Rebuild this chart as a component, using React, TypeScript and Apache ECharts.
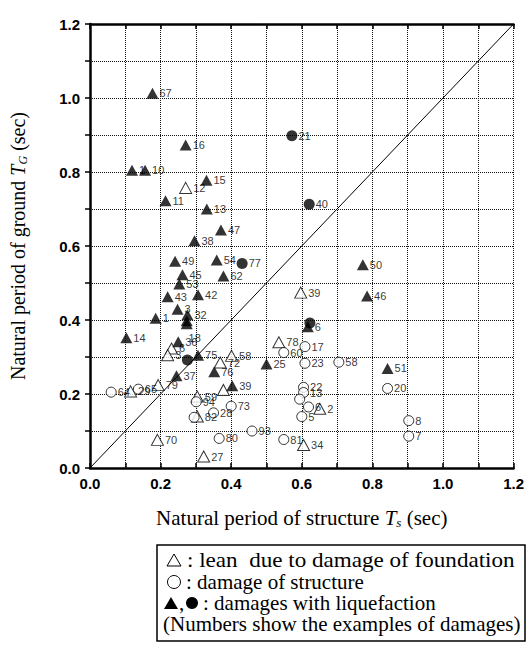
import React, { useEffect, useRef } from "react";
import * as echarts from "echarts";

// [Ts, TG, label]
const leanFoundation: [number, number, string][] = [
  [0.271, 0.757, "12"], [0.597, 0.474, "39"], [0.535, 0.34, "78"],
  [0.231, 0.323, "6"], [0.22, 0.305, "3"], [0.401, 0.303, "58"],
  [0.369, 0.285, "72"], [0.304, 0.193, "59"], [0.378, 0.211, ""],
  [0.304, 0.139, "82"], [0.115, 0.207, "29"], [0.193, 0.224, "79"],
  [0.191, 0.076, "70"], [0.322, 0.031, "27"], [0.651, 0.16, "2"],
  [0.605, 0.062, "34"],
];
const damageStructure: [number, number, string][] = [
  [0.549, 0.312, "60"], [0.609, 0.328, "17"], [0.609, 0.283, "23"],
  [0.705, 0.286, "58"], [0.843, 0.215, "20"], [0.605, 0.218, "22"],
  [0.605, 0.204, "13"], [0.594, 0.186, ""], [0.619, 0.165, "6"],
  [0.6, 0.139, "5"], [0.903, 0.128, "8"], [0.903, 0.086, "7"],
  [0.549, 0.077, "81"], [0.459, 0.1, "93"], [0.366, 0.08, "80"],
  [0.35, 0.149, "28"], [0.4, 0.167, "73"], [0.301, 0.179, "94"],
  [0.295, 0.137, ""], [0.06, 0.205, "64"], [0.137, 0.213, "65"],
];
const liquefactionTri: [number, number, string][] = [
  [0.177, 1.013, "67"], [0.271, 0.873, "16"], [0.119, 0.805, "1"],
  [0.156, 0.805, "10"], [0.33, 0.778, "15"], [0.214, 0.722, "11"],
  [0.331, 0.7, "13"], [0.371, 0.643, "47"], [0.296, 0.614, "38"],
  [0.241, 0.559, "49"], [0.359, 0.562, "54"], [0.262, 0.522, "45"],
  [0.378, 0.519, "62"], [0.253, 0.497, "53"], [0.22, 0.463, "43"],
  [0.306, 0.468, "42"], [0.248, 0.429, "3"], [0.276, 0.414, "32"],
  [0.274, 0.398, ""], [0.186, 0.405, "1"], [0.103, 0.352, "14"],
  [0.25, 0.341, "36"], [0.306, 0.305, "75"], [0.352, 0.26, "76"],
  [0.5, 0.281, "25"], [0.245, 0.249, "37"], [0.403, 0.222, "39"],
  [0.773, 0.549, "50"], [0.785, 0.465, "46"], [0.843, 0.269, "51"],
  [0.617, 0.382, "6"],
];
const liquefactionCircle: [number, number, string][] = [
  [0.572, 0.898, "21"], [0.621, 0.713, "40"], [0.431, 0.553, "77"],
  [0.276, 0.292, ""], [0.623, 0.392, ""],
];
const label18: [number, number, string][] = [[0.274, 0.39, "18"]];
const diagonal: [number, number][] = [[0, 0], [1.2, 1.2]];

const toData = (arr: [number, number, string][]) =>
  arr.map(([x, y, n]) => ({ value: [x, y], name: n }));

const pointLabel = {
  show: true,
  position: "right" as const,
  distance: 1,
  formatter: "{b}",
  color: "#000",
  fontSize: 11,
  fontFamily: "Liberation Sans, Arial, sans-serif",
};

export default function App() {
  const ref = useRef<HTMLDivElement>(null);
  useEffect(() => {
    if (!ref.current) return;
    const chart = echarts.init(ref.current, null, { renderer: "svg" });
    const axisLine = { show: true, lineStyle: { color: "#000", width: 2.5 } };
    const splitLine = { show: true, lineStyle: { color: "#111", type: "dotted" as const, width: 1 } };
    const tickFmt = (v: number) => (Math.round(v * 10) % 2 === 0 ? v.toFixed(1) : "");
    const tickLabel = {
      formatter: tickFmt,
      color: "#000",
      fontSize: 15,
      fontWeight: "bold" as const,
      fontFamily: "Liberation Sans, Arial, sans-serif",
    };
    const serif = "Liberation Serif, Times New Roman, serif";
    const mkRich = (fs: number) => ({
      a: { fontFamily: serif, fontSize: fs, color: "#000" },
      i: { fontFamily: serif, fontSize: fs, fontStyle: "italic" as const, color: "#000" },
      s: { fontFamily: serif, fontSize: Math.round(fs * 0.62), fontStyle: "italic" as const, color: "#000", verticalAlign: "bottom" as const, padding: [10, 0, 0, 0] },
    });
    const legendFont = "21px Liberation Serif, Times New Roman, serif";
    const lt = (x: number, y: number, text: string, scaleX = 1) => ({
      type: "text", x, y, scaleX,
      style: { text, font: legendFont, fill: "#000", verticalAlign: "middle", align: "left" },
    });
    chart.setOption({
      animation: false,
      grid: { left: 89, top: 24, width: 432, height: 444, containLabel: false },
      xAxis: [
        {
          type: "value", min: 0, max: 1.2, interval: 0.1, position: "bottom",
          axisLine, axisTick: { show: true, inside: true, length: 5, lineStyle: { color: "#000", width: 1.5 } },
          axisLabel: { ...tickLabel, margin: 8 },
          splitLine,
          name: "{a|Natural period of structure }{i|T}{s|s}{a| (sec)}",
          nameLocation: "middle", nameGap: 38,
          nameTextStyle: { rich: mkRich(21) },
        },
        {
          type: "value", min: 0, max: 1.2, interval: 0.1, position: "top",
          axisLine, axisTick: { show: true, inside: true, length: 5, lineStyle: { color: "#000", width: 1.5 } },
          axisLabel: { show: false }, splitLine: { show: false },
        },
      ],
      yAxis: [
        {
          type: "value", min: 0, max: 1.2, interval: 0.1,
          axisLine, axisTick: { show: true, inside: false, length: 5, lineStyle: { color: "#000", width: 1.5 } },
          axisLabel: { ...tickLabel, margin: 10 },
          splitLine,
          name: "{a|Natural period of ground }{i|T}{s|G}{a| (sec)}",
          nameLocation: "middle", nameGap: 61, nameRotate: 90,
          nameTextStyle: { rich: mkRich(20) },
        },
      ],
      series: [
        {
          type: "line", data: diagonal, symbol: "none", silent: true,
          lineStyle: { color: "#000", width: 1 }, z: 1,
        },
        {
          type: "scatter", data: toData(leanFoundation), symbol: "triangle", symbolSize: [12, 11],
          itemStyle: { color: "#fff", borderColor: "#000", borderWidth: 1 }, label: pointLabel, z: 3,
        },
        {
          type: "scatter", data: toData(damageStructure), symbol: "circle", symbolSize: 10,
          itemStyle: { color: "#fff", borderColor: "#000", borderWidth: 1 }, label: pointLabel, z: 3,
        },
        {
          type: "scatter", data: toData(liquefactionTri), symbol: "triangle", symbolSize: [12, 11],
          itemStyle: { color: "#000" }, label: pointLabel, z: 4,
        },
        {
          type: "scatter", data: toData(liquefactionCircle), symbol: "circle", symbolSize: 11,
          itemStyle: { color: "#000" }, label: pointLabel, z: 4,
        },
        {
          type: "scatter", data: toData(label18), symbol: "triangle", symbolSize: [12, 11],
          itemStyle: { color: "#000" },
          label: { ...pointLabel, position: "bottom", distance: 3, offset: [8, 0] }, z: 4,
        },
      ],
      graphic: [
        {
          type: "rect", shape: { x: 157, y: 545, width: 368, height: 96 },
          style: { fill: "#fff", stroke: "#000", lineWidth: 1.5 },
        },
        {
          type: "polygon", shape: { points: [[167, 566], [181, 566], [174, 554]] },
          style: { fill: "#fff", stroke: "#000", lineWidth: 1 },
        },
        lt(187, 560, ": lean  due to damage of foundation", 1.1),
        {
          type: "circle", shape: { cx: 174, cy: 582, r: 6.5 },
          style: { fill: "#fff", stroke: "#000", lineWidth: 1 },
        },
        lt(186, 582, ": damage of structure"),
        {
          type: "polygon", shape: { points: [[164, 609], [178, 609], [171, 597]] },
          style: { fill: "#000" },
        },
        lt(179, 603, ","),
        {
          type: "circle", shape: { cx: 192, cy: 603, r: 6 },
          style: { fill: "#000" },
        },
        lt(203, 603, ": damages with liquefaction"),
        lt(163, 624, "(Numbers show the examples of damages)"),
      ],
    });
    return () => chart.dispose();
  }, []);
  return (
    <div
      ref={ref}
      style={{ position: "fixed", left: 0, top: 0, width: 527, height: 646, background: "#fff" }}
    />
  );
}
